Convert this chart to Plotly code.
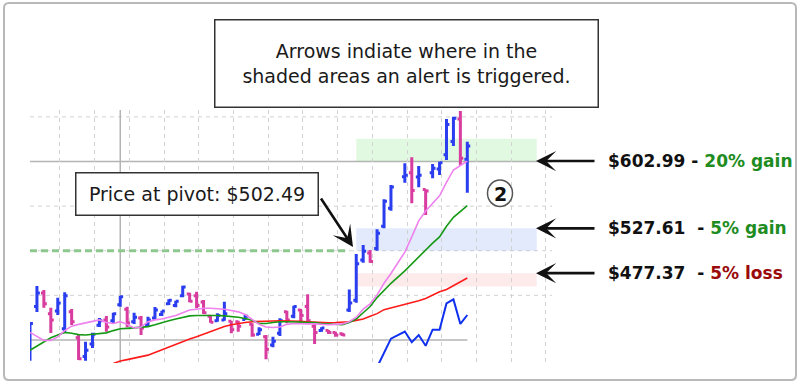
import plotly.graph_objects as go

# ---------------- data ----------------
day_index = list(range(0, 53)) + list(range(54, 64))

opens = [382, 440, 455, 432, 435, 415, 434, 405, 384, 398,
         419, 425, 424, 442, 437, 423, 427, 419, 427, 431,
         443, 441, 452, 454, 452, 445, 429, 424, 425, 423.5,
         423, 425.5, 420, 409, 406, 397, 410, 434, 429, 436,
         440, 418, 413, 413, 411, 409.5, 436, 447, 492, 500,
         505, 530, 550,
         585.5, 590, 585, 571, 590, 594, 610, 625, 650, 605]
highs = [422.3, 462.9, 458.5, 438.6, 449.8, 455.9, 437.2, 409.2, 400.6, 410.6,
         427.1, 429.3, 433.0, 451.8, 439.8, 433.0, 429.3, 428.6, 439.4, 435.3,
         448.1, 446.5, 463.3, 455.4, 456.6, 447.3, 430.5, 432.4, 445.4, 424.1,
         424.1, 430.5, 421.2, 416.7, 408.1, 406.2, 426.8, 435.3, 440.9, 437.2,
         453.6, 421.2, 416.7, 413.7, 411.7, 410.6, 459.0, 498.8, 508.9, 503.3,
         526.5, 560.1, 576.1,
         600.4, 607.2, 597.4, 571.3, 599.6, 602.2, 650.1, 652.7, 659.0, 624.6]
lows = [379.3, 433.8, 438.6, 410.3, 430.5, 410.3, 419.3, 380.1, 379.3, 393.5,
        417.0, 411.7, 420.4, 439.8, 416.7, 420.4, 408.1, 417.0, 424.9, 429.3,
        441.7, 439.1, 450.3, 444.7, 438.0, 431.6, 421.8, 423.0, 424.1, 409.9,
        411.7, 424.9, 406.2, 408.1, 380.9, 394.3, 407.0, 421.2, 426.8, 423.0,
        421.8, 398.0, 411.7, 409.2, 406.2, 407.0, 433.8, 444.3, 489.1, 489.1,
        502.5, 527.6, 547.3,
        578.7, 555.6, 573.5, 542.5, 583.6, 587.3, 604.1, 619.8, 598.5, 567.4]
closes = [421, 455, 443, 425, 444, 452, 423, 381.5, 391, 409,
          424, 417, 432, 451, 421.5, 428, 416, 425, 436, 435,
          447, 446, 462, 446, 441, 433, 422.5, 430, 432, 414,
          418, 429, 408, 414, 392, 401, 424, 425, 440, 430,
          424, 411, 416, 411, 408, 408, 444, 488, 502, 490.5,
          522, 558, 574,
          587, 570, 587, 569.5, 595, 601, 644, 651, 606, 620]

ma10 = [411, 406, 402, 402, 406, 413, 418, 420, 421.5, 423,
        425, 422, 421, 423, 420, 416, 417, 423, 425, 426,
        428, 430, 433, 436, 437, 438, 438, 437.5, 437, 435.5,
        434, 431, 425, 420, 417, 416.5, 417, 420, 421, 420.5,
        420.5, 420.5, 420, 419.5, 420, 420.5, 423, 428, 437, 443,
        453, 466, 477,
        501, 518, 536, 547, 556, 564, 579, 593, 598, 603]
ma21 = [391, 396, 401, 405, 408, 411, 410, 408.5, 408, 409,
        409.5, 410.5, 413, 415, 415.5, 416, 416.5, 417.5, 419.5, 422,
        424, 426, 428, 429.5, 430, 430, 430.5, 430, 429.5, 429,
        428, 426.5, 424.5, 421, 421, 422, 423, 423, 423, 422.5,
        422, 422, 421, 420.5, 420, 419.5, 422, 426, 433, 440,
        450, 458, 466,
        480, 488, 495, 503, 511, 518, 530, 540, 547, 553]
ma50 = [None] * 12 + [
        376, 379, 380.5, 382, 383.5, 385.5, 388.5, 391.5,
        395, 398, 401, 403.5, 406, 409, 412, 415, 417.5, 419.5,
        421, 422, 423, 423.5, 423.5, 423.8, 424, 424, 424, 423.5,
        423, 422.5, 422, 421.8, 422, 422.5, 423, 424.5, 426, 429,
        432, 436.5, 438.5,
        442, 444, 446.5, 449, 453, 456.5, 459, 463.5, 468, 472]
rs_line = [None] * 50 + [372, 389, 404,
           412, 400, 408, 396, 414, 414, 443.5, 448, 420.5, 430.5]

pivot_price = 502.49
gain20_price, gain25_price = 602.99, 628.11
gain5_price = 527.61
loss5_price, loss8_price = 477.37, 462.29
zone_start, zone_end = 47, 73
month_line = 13
grid_prices = [452.5, 502.5, 552.5, 652.5]
solid_prices = [602.5, 402.5]

right_labels = [
    (gain20_price, "$602.99 - ", "20% gain", "#1e8c1e"),
    (gain5_price, "$527.61\u00a0 - ", "5% gain", "#1e8c1e"),
    (loss5_price, "$477.37\u00a0 - ", "5% loss", "#9a0a0a"),
]

# ---------------- figure ----------------
W, H = 800, 385
FONT = "DejaVu Sans"


def px(x):
    return x / W


def py(y):
    return 1 - y / H


fig = go.Figure()

fig.add_trace(go.Ohlc(
    x=day_index, open=opens, high=highs, low=lows, close=closes,
    increasing=dict(line=dict(color="#2a3ef0", width=3)),
    decreasing=dict(line=dict(color="#d83c9f", width=3)),
    tickwidth=0.42, hoverinfo="skip"))

fig.add_trace(go.Scatter(x=day_index, y=ma50, mode="lines",
                         line=dict(color="#ff1a1a", width=1.6), hoverinfo="skip"))
fig.add_trace(go.Scatter(x=day_index, y=ma21, mode="lines",
                         line=dict(color="#169a16", width=1.6), hoverinfo="skip"))
fig.add_trace(go.Scatter(x=day_index, y=ma10, mode="lines",
                         line=dict(color="#ee82ee", width=1.6), hoverinfo="skip"))
fig.add_trace(go.Scatter(x=day_index, y=rs_line, mode="lines",
                         line=dict(color="#1030f0", width=2), hoverinfo="skip"))

shapes = []
for g in grid_prices:
    shapes.append(dict(type="line", xref="x domain", yref="y", x0=0, x1=1, y0=g, y1=g,
                       line=dict(color="#d2d2d2", width=1, dash="4px,4px"), layer="below"))
shapes.append(dict(type="line", xref="x domain", yref="y", x0=0, x1=1,
                   y0=solid_prices[0], y1=solid_prices[0],
                   line=dict(color="#b4b4b4", width=1.5), layer="below"))
shapes.append(dict(type="line", xref="x", yref="y", x0=0, x1=day_index[-1],
                   y0=solid_prices[1], y1=solid_prices[1],
                   line=dict(color="#b4b4b4", width=1.5), layer="below"))
shapes.append(dict(type="line", xref="x", yref="y domain", x0=month_line, x1=month_line,
                   y0=0, y1=1, line=dict(color="#b4b4b4", width=1.5), layer="below"))
# shaded alert zones
shapes.append(dict(type="rect", xref="x", yref="y", x0=zone_start, x1=zone_end,
                   y0=gain20_price, y1=gain25_price, line=dict(width=0),
                   fillcolor="rgba(70,210,70,0.16)", layer="below"))
shapes.append(dict(type="rect", xref="x", yref="y", x0=zone_start, x1=zone_end,
                   y0=pivot_price, y1=gain5_price, line=dict(width=0),
                   fillcolor="rgba(90,130,240,0.17)", layer="below"))
shapes.append(dict(type="rect", xref="x", yref="y", x0=zone_start, x1=zone_end,
                   y0=loss8_price, y1=loss5_price, line=dict(width=0),
                   fillcolor="rgba(240,110,110,0.14)", layer="below"))
# pivot line
shapes.append(dict(type="line", xref="x", yref="y", x0=0, x1=46,
                   y0=pivot_price, y1=pivot_price,
                   line=dict(color="#8fc88f", width=3, dash="7px,4px"), layer="below"))
# circled number
shapes.append(dict(type="circle", xref="paper", yref="paper",
                   x0=px(487.5), x1=px(512.5), y0=py(206.5), y1=py(180),
                   line=dict(color="#555555", width=1.5), fillcolor="white"))


# outer rounded frame
def rounded_path(x0, y0, x1, y1, r):
    pts = [
        f"M {px(x0 + r)},{py(y0)}",
        f"L {px(x1 - r)},{py(y0)}",
        f"Q {px(x1)},{py(y0)} {px(x1)},{py(y0 + r)}",
        f"L {px(x1)},{py(y1 - r)}",
        f"Q {px(x1)},{py(y1)} {px(x1 - r)},{py(y1)}",
        f"L {px(x0 + r)},{py(y1)}",
        f"Q {px(x0)},{py(y1)} {px(x0)},{py(y1 - r)}",
        f"L {px(x0)},{py(y0 + r)}",
        f"Q {px(x0)},{py(y0)} {px(x0 + r)},{py(y0)}",
        "Z",
    ]
    return " ".join(pts)


shapes.append(dict(type="path", xref="paper", yref="paper",
                   path=rounded_path(4, 3, 796, 380, 5),
                   line=dict(color="#b9b9b9", width=2)))

annotations = []
annotations.append(dict(
    xref="paper", yref="paper", x=px(406.5), y=py(63.5), xanchor="center", yanchor="middle",
    text="Arrows indiate where in the<br>shaded areas an alert is triggered.",
    showarrow=False, font=dict(family=FONT, size=19, color="#1a1a1a"),
    bgcolor="white", bordercolor="#333333", borderwidth=1.5, borderpad=0,
    width=382, height=86))
annotations.append(dict(
    xref="paper", yref="paper", x=px(197), y=py(194), xanchor="center", yanchor="middle",
    text="Price at pivot: $502.49",
    showarrow=False, font=dict(family=FONT, size=19, color="#1a1a1a"),
    bgcolor="white", bordercolor="#333333", borderwidth=1.5, borderpad=0,
    width=241, height=41))
annotations.append(dict(
    xref="paper", yref="paper", x=px(353), y=py(247), text="", showarrow=True,
    ax=-33, ay=-50, arrowhead=3, arrowsize=1.35, arrowwidth=2.6, arrowcolor="#111111"))
for price, lead, tail, col in right_labels:
    annotations.append(dict(
        xref="paper", yref="y", x=px(536), y=price, text="", showarrow=True,
        ax=60, ay=0, arrowhead=3, arrowsize=1.3, arrowwidth=2.6, arrowcolor="#111111"))
    annotations.append(dict(
        xref="paper", yref="y", x=px(606), y=price, xanchor="left", yanchor="middle",
        text=f"<b>{lead}<span style='color:{col}'>{tail}</span></b>",
        showarrow=False, font=dict(family=FONT, size=17, color="#111111")))
annotations.append(dict(
    xref="paper", yref="paper", x=px(500), y=py(193.5), text="<b>2</b>", showarrow=False,
    xanchor="center", yanchor="middle", font=dict(family=FONT, size=19, color="#111111")))

fig.update_layout(
    width=W, height=H, margin=dict(l=0, r=0, t=0, b=0),
    paper_bgcolor="white", plot_bgcolor="white", showlegend=False,
    shapes=shapes, annotations=annotations, hovermode=False,
    xaxis=dict(domain=[px(30), px(552)], range=[0, 75.2], showgrid=True,
               gridcolor="#d2d2d2", griddash="4px,4px", gridwidth=1,
               tick0=4.32, dtick=5, showticklabels=False, zeroline=False,
               showline=False, ticks="", rangeslider=dict(visible=False)),
    yaxis=dict(domain=[1 - 363 / H, 1 - 110 / H], range=[376.7, 660.2],
               showgrid=False, showticklabels=False, zeroline=False,
               showline=False, ticks=""),
)

fig.write_html("out.html")
